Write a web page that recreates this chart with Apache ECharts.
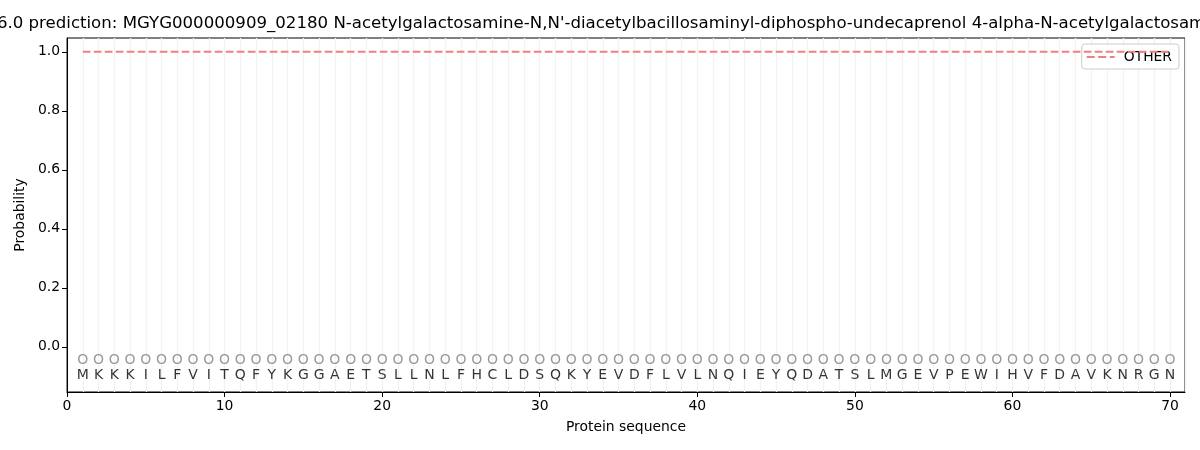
<!DOCTYPE html>
<html>
<head>
<meta charset="utf-8">
<script src="https://cdn.jsdelivr.net/npm/echarts@6/dist/echarts.min.js"></script>
<style>html,body{margin:0;padding:0;background:#fff}#c{width:1200px;height:450px}</style>
</head>
<body>
<div id="c"></div>
<script>
const titleText = "SignalP 6.0 prediction: MGYG000000909_02180 N-acetylgalactosamine-N,N'-diacetylbacillosaminyl-diphospho-undecaprenol 4-alpha-N-acetylgalactosaminyltransferase";
const sequence = ["M","K","K","K","I","L","F","V","I","T","Q","F","Y","K","G","G","A","E","T","S","L","L","N","L","F","H","C","L","D","S","Q","K","Y","E","V","D","F","L","V","L","N","Q","I","E","Y","Q","D","A","T","S","L","M","G","E","V","P","E","W","I","H","V","F","D","A","V","K","N","R","G","N"];
const predLabels = ["O","O","O","O","O","O","O","O","O","O","O","O","O","O","O","O","O","O","O","O","O","O","O","O","O","O","O","O","O","O","O","O","O","O","O","O","O","O","O","O","O","O","O","O","O","O","O","O","O","O","O","O","O","O","O","O","O","O","O","O","O","O","O","O","O","O","O","O","O","O"];
const otherProb = [1,1,1,1,1,1,1,1,1,1,1,1,1,1,1,1,1,1,1,1,1,1,1,1,1,1,1,1,1,1,1,1,1,1,1,1,1,1,1,1,1,1,1,1,1,1,1,1,1,1,1,1,1,1,1,1,1,1,1,1,1,1,1,1,1,1,1,1,1,1];
const xTicks = [0,10,20,30,40,50,60,70];
const yTicks = [0,0.2,0.4,0.6,0.8,1.0];

const FONT = "DejaVu Sans";
const positions = sequence.map((_, i) => i + 1);
const lineData = positions.map((p, i) => [p, otherProb[i]]);
const predData = positions.map((p, i) => ({value: [p, -0.045], label: {formatter: predLabels[i]}}));
const seqData = positions.map((p, i) => ({value: [p, -0.098], label: {formatter: sequence[i]}}));

const chart = echarts.init(document.getElementById('c'));
chart.setOption({
  animation: false,
  backgroundColor: '#fff',
  title: {
    text: titleText, left: 625, top: 10, textAlign: 'center',
    textStyle: {fontFamily: FONT, fontSize: 16.6, fontWeight: 'normal', color: '#000'}
  },
  legend: {
    right: 21, top: 44, orient: 'vertical',
    data: [{name: 'OTHER', icon: 'path://M0,0h8v2h-8zM11.5,0h8v2h-8zM23,0h5v2h-5z'}],
    itemWidth: 28, itemHeight: 2, itemGap: 5,
    padding: [6, 7, 5, 5],
    borderColor: '#cccccc', borderWidth: 1, borderRadius: 3,
    backgroundColor: 'rgba(255,255,255,0.8)',
    itemStyle: {color: '#f08080'},
    textStyle: {fontFamily: FONT, fontSize: 13.9, color: '#000', padding: [0, 0, 0, 4]}
  },
  grid: {left: 67, right: 15, top: 38, bottom: 58, show: true, borderColor: '#000', borderWidth: 1, backgroundColor: 'transparent'},
  xAxis: [{
    type: 'value', min: 0, max: 70.95,
    name: 'Protein sequence', nameLocation: 'middle', nameGap: 28,
    nameTextStyle: {fontFamily: FONT, fontSize: 13.9, color: '#000'},
    axisLine: {show: true, onZero: false, lineStyle: {color: '#000'}},
    axisTick: {show: true, inside: false, length: 5, lineStyle: {color: '#000'}, customValues: xTicks},
    axisLabel: {fontFamily: FONT, fontSize: 13.9, color: '#000', margin: 7, customValues: xTicks},
    splitLine: {show: false}
  }, {
    type: 'value', min: 0, max: 70.95, interval: 1, position: 'bottom',
    axisLine: {show: false}, axisTick: {show: false}, axisLabel: {show: false},
    splitLine: {show: true, lineStyle: {color: '#f2f2f2', width: 1.3}}
  }],
  yAxis: {
    type: 'value', min: -0.153, max: 1.047,
    name: 'Probability', nameLocation: 'middle', nameGap: 38, nameRotate: 90,
    nameTextStyle: {fontFamily: FONT, fontSize: 13.9, color: '#000'},
    axisLine: {show: true, onZero: false, lineStyle: {color: '#000'}},
    axisTick: {show: true, inside: false, length: 5, lineStyle: {color: '#000'}, customValues: yTicks},
    axisLabel: {fontFamily: FONT, fontSize: 13.9, color: '#000', margin: 7, customValues: yTicks,
      formatter: v => v.toFixed(1)},
    splitLine: {show: false}
  },
  series: [{
    name: 'OTHER', type: 'line', data: lineData, symbol: 'none',
    lineStyle: {color: '#f08080', width: 2, type: [7.7, 3.3]},
    itemStyle: {color: '#f08080'}, z: 5
  }, {
    name: 'pred', type: 'scatter', data: predData, symbol: 'circle', symbolSize: 1,
    itemStyle: {color: 'rgba(0,0,0,0)'},
    label: {show: true, position: 'inside', fontFamily: FONT, fontSize: 14, color: '#808080'},
    emphasis: {disabled: true}, silent: true
  }, {
    name: 'seq', type: 'scatter', data: seqData, symbol: 'circle', symbolSize: 1,
    itemStyle: {color: 'rgba(0,0,0,0)'},
    label: {show: true, position: 'inside', fontFamily: FONT, fontSize: 14, color: '#000'},
    emphasis: {disabled: true}, silent: true
  }]
});
</script>
</body>
</html>
